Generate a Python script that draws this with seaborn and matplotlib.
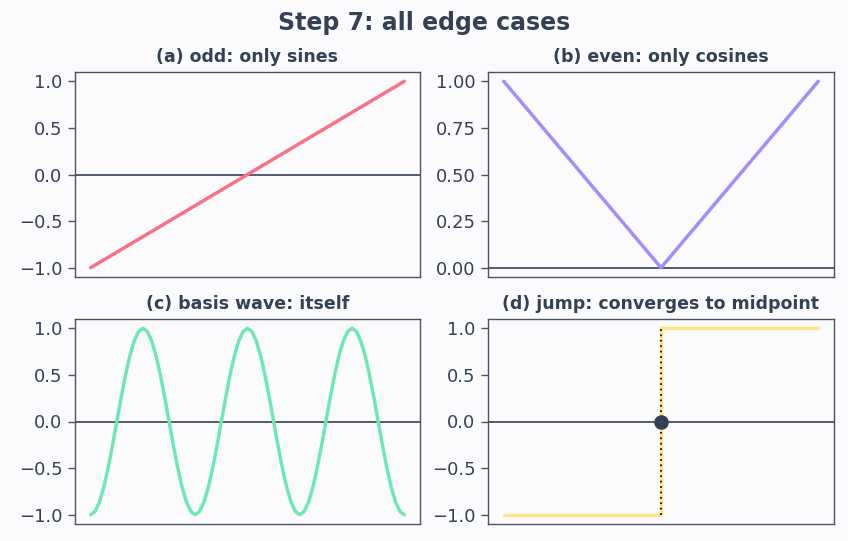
import numpy as np
import matplotlib
matplotlib.use("Agg")
import matplotlib.pyplot as plt
import seaborn as sns

# ---- data ----
title = "Step 7: all edge cases"
panel_titles = ["(a) odd: only sines", "(b) even: only cosines",
                "(c) basis wave: itself", "(d) jump: converges to midpoint"]

pi = np.pi
a_x = [-pi, pi]
a_y = [-1.0, 1.0]

b_x = [-pi, 0.0, pi]
b_y = [1.0, 0.0, 1.0]

c_y = [-1.0, -0.966, -0.866, -0.707, -0.5, -0.259, 0.0, 0.259, 0.5, 0.707, 0.866, 0.966,
       1.0, 0.966, 0.866, 0.707, 0.5, 0.259, 0.0, -0.259, -0.5, -0.707, -0.866, -0.966,
       -1.0, -0.966, -0.866, -0.707, -0.5, -0.259, 0.0, 0.259, 0.5, 0.707, 0.866, 0.966,
       1.0, 0.966, 0.866, 0.707, 0.5, 0.259, 0.0, -0.259, -0.5, -0.707, -0.866, -0.966,
       -1.0, -0.966, -0.866, -0.707, -0.5, -0.259, 0.0, 0.259, 0.5, 0.707, 0.866, 0.966,
       1.0, 0.966, 0.866, 0.707, 0.5, 0.259, 0.0, -0.259, -0.5, -0.707, -0.866, -0.966,
       -1.0]
c_x = np.linspace(-pi, pi, len(c_y))

d_x = [-pi, 0.0, 0.0, pi]
d_y = [-1.0, -1.0, 1.0, 1.0]
jump_x = 0.0
jump_lo, jump_hi = -1.0, 1.0
mid_x, mid_y = 0.0, 0.0

a_ticks = [-1.0, -0.5, 0.0, 0.5, 1.0]
b_ticks = [0.0, 0.25, 0.5, 0.75, 1.0]

# ---- style ----
BG = "#fbfbfe"
TXT = "#334155"
SPINE = "#4b5262"
colors = ["#f87185", "#a78bfa", "#6ee7b7", "#fde68a"]

sns.set_theme(style="white")
plt.rcParams.update({
    "font.family": ["DejaVu Sans"],
    "figure.facecolor": BG,
    "axes.facecolor": BG,
    "axes.edgecolor": SPINE,
    "axes.linewidth": 1.0,
    "text.color": TXT,
    "axes.labelcolor": TXT,
    "xtick.color": TXT,
    "ytick.color": TXT,
})

fig = plt.figure(figsize=(8.48, 5.41), dpi=100)
W, H = 848, 541
def box(l, r, t, b):
    return [l / W, 1 - b / H, (r - l) / W, (b - t) / H]

axes = [fig.add_axes(box(75, 420, 72, 277)),
        fig.add_axes(box(488, 834, 72, 277)),
        fig.add_axes(box(75, 420, 319, 524)),
        fig.add_axes(box(488, 834, 319, 524))]

series = [(a_x, a_y), (b_x, b_y), (c_x, c_y), (d_x, d_y)]
for i, (ax, (xs, ys)) in enumerate(zip(axes, series)):
    ax.axhline(0, color=TXT, lw=1.2, zorder=1)
    sns.lineplot(x=xs, y=ys, ax=ax, color=colors[i], lw=2.5,
                 estimator=None, sort=False, zorder=2)
    ax.set_title(panel_titles[i], fontsize=12.5, fontweight="bold", color=TXT, pad=7)
    ax.set_xticks([])
    ax.tick_params(axis="y", labelsize=13, length=5, width=1, color=SPINE,
                   left=True, pad=4)
    for s in ax.spines.values():
        s.set_color(SPINE)

axes[0].set_yticks(a_ticks)
axes[2].set_yticks(a_ticks)
axes[3].set_yticks(a_ticks)
axes[1].set_yticks(b_ticks)
for ax in (axes[0], axes[2], axes[3]):
    ax.set_yticklabels([f"{v:.1f}".replace("-", "\u2212") for v in a_ticks])
axes[1].set_yticklabels([f"{v:.2f}" for v in b_ticks])

axd = axes[3]
axd.plot([jump_x, jump_x], [jump_lo, jump_hi], color="#111111", lw=1.3,
         ls=(0, (1, 2)), zorder=3)
axd.plot([mid_x], [mid_y], "o", color=TXT, ms=9.5, zorder=4)

fig.suptitle(title, fontsize=17, fontweight="bold", color=TXT, y=0.979)

fig.savefig("out.png", dpi=100, facecolor=BG)
